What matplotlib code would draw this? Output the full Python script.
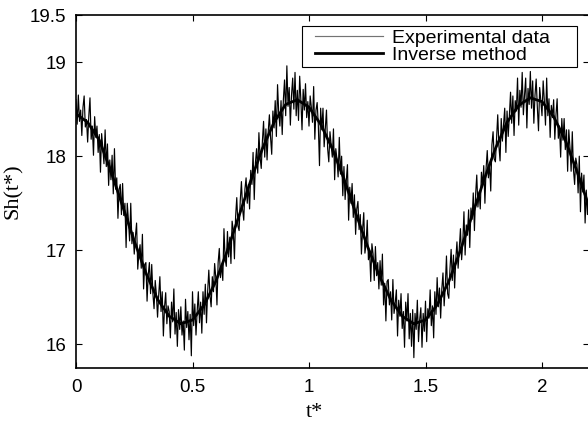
#!/bin/env python
import matplotlib
matplotlib.use("Agg")
import matplotlib.pyplot as plt
from matplotlib.lines import Line2D
from matplotlib.legend_handler import HandlerLine2D
import numpy as np

# smooth curve from the inverse method, one value every 0.05 in t*
sh_inverse = [
    18.45, 18.36, 18.17, 17.84, 17.47, 17.10, 16.76, 16.48, 16.30, 16.22,
    16.26, 16.42, 16.67, 17.00, 17.37, 17.74, 18.08, 18.36, 18.55, 18.60,
    18.52, 18.34, 18.08, 17.76, 17.40, 17.05, 16.74, 16.48, 16.30, 16.22,
    16.26, 16.42, 16.67, 17.00, 17.37, 17.74, 18.08, 18.36, 18.54, 18.62,
    18.58, 18.42, 18.17, 17.84, 17.48,
]

# measured signal, one value every 0.005 in t* (one row per 0.05)
sh_experiment = [
    18.60, 18.34, 18.65, 18.37, 18.49, 18.22, 18.52, 18.64, 18.31, 18.39,
    18.15, 18.43, 18.62, 18.18, 18.32, 18.01, 18.42, 18.20, 18.32, 18.04,
    18.23, 17.83, 18.24, 18.09, 17.92, 18.28, 17.89, 18.13, 17.69, 17.96,
    17.75, 18.01, 17.60, 18.08, 17.65, 17.77, 17.34, 17.65, 17.70, 17.38,
    17.71, 17.37, 17.50, 17.03, 17.50, 17.32, 17.10, 17.50, 17.07, 17.19,
    16.96, 17.15, 17.29, 16.80, 16.97, 17.06, 16.81, 17.17, 16.59, 16.85,
    16.87, 16.46, 16.74, 16.87, 16.54, 16.85, 16.54, 16.38, 16.68, 16.53,
    16.29, 16.53, 16.72, 16.35, 16.56, 16.09, 16.40, 16.55, 16.22, 16.41,
    16.35, 16.07, 16.45, 16.24, 16.59, 16.11, 16.34, 15.98, 16.37, 16.16,
    16.40, 16.10, 16.25, 15.94, 16.48, 16.18, 16.35, 16.05, 16.32, 15.88,
    16.56, 16.20, 16.43, 16.10, 16.35, 16.56, 16.23, 16.45, 16.12, 16.56,
    16.32, 16.64, 16.23, 16.56, 16.79, 16.52, 16.40, 16.72, 16.56, 16.86,
    16.71, 16.42, 16.87, 17.02, 16.71, 16.85, 16.68, 17.23, 16.91, 16.83,
    17.20, 16.93, 17.14, 16.86, 17.31, 17.21, 16.91, 17.36, 17.56, 17.26,
    17.21, 17.53, 17.73, 17.44, 17.32, 17.65, 17.77, 17.50, 17.70, 17.44,
    17.85, 17.70, 18.04, 17.54, 17.93, 18.08, 17.82, 18.25, 17.99, 17.87,
    18.16, 18.37, 17.99, 18.29, 17.96, 18.26, 18.44, 18.20, 18.02, 18.48,
    18.30, 18.59, 18.21, 18.76, 18.46, 18.32, 18.59, 18.23, 18.60, 18.81,
    18.43, 18.96, 18.53, 18.73, 18.33, 18.65, 18.83, 18.50, 18.89, 18.43,
    18.70, 18.38, 18.85, 18.60, 18.28, 18.71, 18.49, 18.77, 18.41, 18.58,
    18.32, 18.64, 18.52, 18.36, 18.74, 18.18, 18.49, 18.57, 18.33, 17.90,
    18.51, 18.28, 18.51, 18.10, 18.30, 18.49, 18.08, 17.94, 18.26, 18.12,
    17.99, 18.29, 17.75, 18.08, 17.97, 17.78, 18.20, 17.81, 18.00, 17.58,
    17.89, 17.54, 17.74, 17.91, 17.32, 17.67, 17.50, 17.71, 17.35, 17.59,
    17.17, 17.44, 17.52, 17.22, 17.38, 16.96, 17.22, 17.40, 16.97, 17.07,
    17.32, 16.90, 17.00, 16.67, 17.07, 16.96, 16.68, 17.04, 16.73, 16.87,
    16.59, 16.89, 16.63, 16.96, 16.42, 16.65, 16.25, 16.67, 16.69, 16.42,
    16.56, 16.26, 16.69, 16.33, 16.44, 16.58, 16.09, 16.47, 16.30, 16.54,
    16.17, 16.35, 15.97, 16.45, 16.25, 16.54, 16.06, 16.33, 15.98, 16.37,
    15.86, 16.33, 16.16, 16.47, 16.03, 16.26, 16.39, 15.97, 16.33, 16.14,
    16.46, 16.03, 16.38, 16.28, 16.58, 16.20, 16.41, 16.07, 16.56, 16.32,
    16.71, 16.40, 16.60, 16.28, 16.59, 16.76, 16.41, 16.62, 16.94, 16.54,
    16.49, 16.80, 17.01, 16.68, 16.95, 16.60, 16.91, 17.09, 16.81, 17.03,
    17.23, 16.90, 17.08, 17.41, 16.95, 17.27, 17.16, 17.43, 17.03, 17.45,
    17.33, 17.61, 17.21, 17.59, 17.80, 17.46, 17.62, 17.44, 17.83, 17.69,
    17.90, 17.50, 17.87, 18.06, 17.77, 17.92, 17.63, 18.12, 18.26, 17.97,
    17.94, 18.20, 18.44, 18.11, 17.95, 18.40, 18.16, 18.34, 18.51, 18.04,
    18.48, 18.21, 18.43, 18.68, 18.35, 18.64, 18.22, 18.59, 18.48, 18.83,
    18.33, 18.70, 18.52, 18.89, 18.44, 18.65, 18.83, 18.30, 18.72, 18.55,
    18.90, 18.51, 18.80, 18.35, 18.65, 18.82, 18.52, 18.27, 18.73, 18.59,
    18.43, 18.80, 18.59, 18.33, 18.83, 18.43, 18.61, 18.20, 18.54, 18.41,
    18.60, 18.18, 18.44, 18.61, 18.19, 18.32, 17.99, 18.40, 18.17, 18.40,
    18.07, 18.28, 17.84, 18.28, 18.09, 17.84, 18.26, 17.86, 17.70, 17.98,
    17.91, 17.61, 18.00, 17.41, 17.82, 17.62, 17.80, 17.29, 17.64, 17.38,
    17.53,
]

t_end = 2.2
x_ticks = [0, 0.5, 1, 1.5, 2]
x_tick_labels = ["0", "0.5", "1", "1.5", "2"]
y_ticks = [16, 17, 18, 19, 19.5]
y_tick_labels = ["16", "17", "18", "19", "19.5"]
series_labels = ["Experimental data", "Inverse method"]


def main() :

    t_exp = np.linspace(0, t_end, len(sh_experiment))
    t_inv = np.linspace(0, t_end, len(sh_inverse))

    fig = plt.figure(figsize = (5.88, 4.24), dpi = 100)
    ax = fig.add_axes([76 / 588, 56 / 424, 512.6 / 588, 353 / 424])

    ax.plot(t_exp, sh_experiment, color = "black", lw = 0.85, label = series_labels[0])
    ax.plot(t_inv, sh_inverse, color = "black", lw = 2.0, label = series_labels[1])

    ax.set_xlim([0, t_end])
    ax.set_ylim([15.75, 19.5])

    tick_font = {"family" : "Liberation Sans", "size" : 13.5}
    ax.set_xticks(x_ticks)
    ax.set_xticklabels(x_tick_labels, fontdict = tick_font)
    ax.set_yticks(y_ticks)
    ax.set_yticklabels(y_tick_labels, fontdict = tick_font)
    ax.tick_params(which = "both", direction = "in", right = True, top = True,
                   length = 4, width = 0.8)
    ax.tick_params(axis = "x", pad = 8)
    ax.tick_params(axis = "y", pad = 7)

    for side in ["left", "top", "bottom"] :
        ax.spines[side].set_linewidth(1.2)
    ax.spines["right"].set_visible(False)

    label_font = {"family" : "Liberation Serif", "size" : 16}
    ax.set_xlabel("t*", fontdict = label_font)
    ax.set_ylabel("Sh(t*)", fontdict = label_font)
    ax.xaxis.set_label_coords(0.466, -0.098)
    ax.yaxis.set_label_coords(-0.103, 0.5)

    leg = ax.legend(loc = "upper left", bbox_to_anchor = (0.4409, 0.0, 0.5365, 0.9688),
                    mode = "expand", borderaxespad = 0, borderpad = 0.15,
                    labelspacing = 0.0, handlelength = 4.0, handletextpad = 0.46,
                    fancybox = False, framealpha = 1, edgecolor = "black",
                    handler_map = {Line2D : HandlerLine2D(xpad = 0.52)},
                    prop = {"family" : "Liberation Sans", "size" : 14})
    leg.get_frame().set_linewidth(0.8)
    leg.get_lines()[0].set_color("0.45")

    fig.savefig("out.png", dpi = 100)


if __name__ == "__main__" :
    main()
